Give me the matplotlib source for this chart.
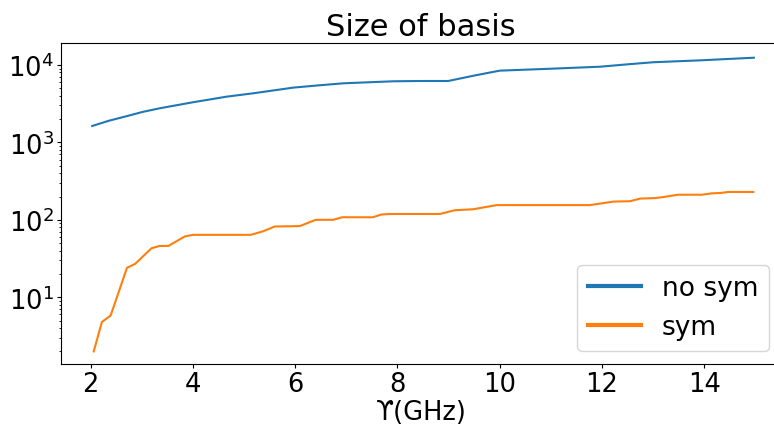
import matplotlib
matplotlib.use("Agg")
import matplotlib.pyplot as plt

# basis size vs frequency
x_nosym = [2.03, 2.35, 2.70, 3.02, 3.35, 4.00, 4.66, 5.18, 5.96, 6.45, 6.94,
           7.92, 8.43, 8.99, 9.50, 10.00, 11.00, 11.96, 12.50, 13.00, 13.92, 14.97]
y_nosym = [1630, 1900, 2180, 2480, 2760, 3300, 3900, 4310, 5100, 5450, 5800,
           6160, 6210, 6210, 7300, 8450, 8950, 9500, 10200, 10850, 11480, 12420]

x_sym = [2.06, 2.22, 2.39, 2.71, 2.87, 3.19, 3.35, 3.52, 3.84, 4.00, 5.13,
         5.37, 5.60, 6.09, 6.40, 6.74, 6.92, 7.52, 7.68, 7.85, 8.83, 9.12,
         9.48, 9.94, 11.76, 11.96, 12.22, 12.55, 12.74, 13.04, 13.20, 13.49,
         13.95, 14.15, 14.31, 14.47, 14.96]
y_sym = [2, 4.8, 5.8, 24, 27, 43, 46, 46, 61, 64, 64,
         71, 82, 83, 100, 100, 108, 108, 117, 119, 119, 133,
         137, 155, 155, 162, 172, 174, 188, 191, 197, 211,
         211, 220, 222, 229, 229]

fig = plt.figure(figsize=(7.74, 4.27), dpi=100)
ax = fig.add_axes([60.5 / 774, 62 / 427, (782 - 60.5) / 774, (365 - 44) / 427])

ax.plot(x_nosym, y_nosym, label="no sym", lw=1.5)
ax.plot(x_sym, y_sym, label="sym", lw=1.5)
ax.set_yscale("log")
ax.set_xlim(1.41, 15.52)
ax.set_ylim(10 ** 0.138, 10 ** 4.284)
ax.set_xticks([2, 4, 6, 8, 10, 12, 14])

ax.tick_params(labelsize=18.5, length=2.8, pad=2)
ax.tick_params(which="minor", length=1.6)
ax.set_xlabel("ϒ(GHz)", fontsize=18.5, labelpad=2)
ax.set_title("Size of basis", fontsize=22)

leg = ax.legend(loc="lower right", fontsize=19)
for line in leg.get_lines():
    line.set_linewidth(3)

fig.savefig("out.png", dpi=100)
